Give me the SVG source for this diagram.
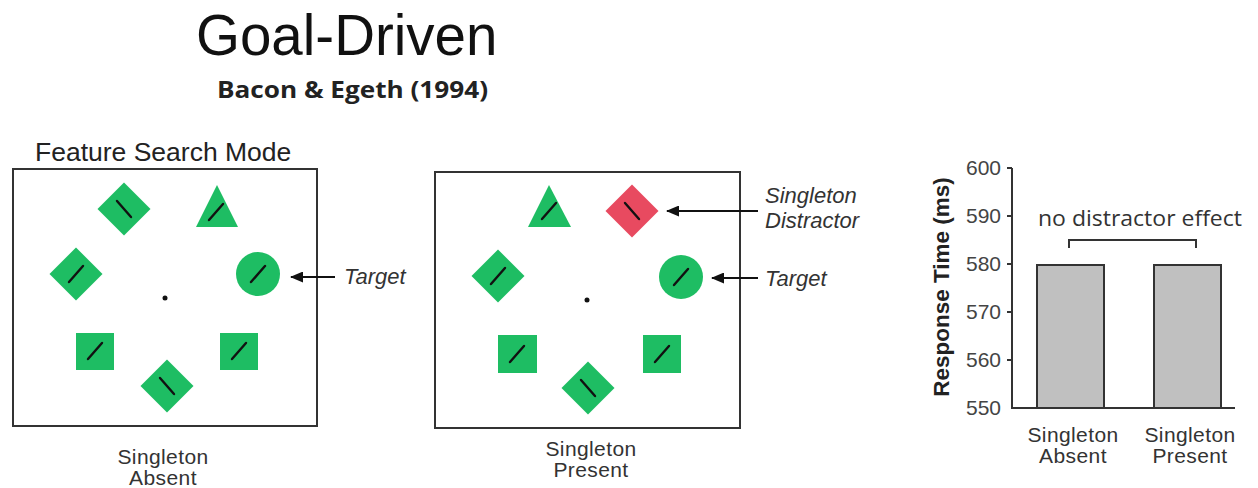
<svg xmlns="http://www.w3.org/2000/svg" width="1258" height="488" viewBox="0 0 1258 488">
  <style>
    .title { font-family: "Liberation Sans", Arial, sans-serif; font-size: 56.5px; fill: #111; }
    .sub { font-family: "Open Sans", "Liberation Sans", sans-serif; font-size: 23px; font-weight: bold; fill: #222; }
    .lbl { font-family: "Liberation Sans", Arial, sans-serif; font-size: 21px; letter-spacing: 0.4px; fill: #333; }
    .mode { font-family: "Liberation Sans", Arial, sans-serif; font-size: 26.5px; fill: #222; }
    .note { font-family: "Liberation Sans", Arial, sans-serif; font-size: 22px; font-style: italic; fill: #333; }
    .tick { font-family: "Liberation Sans", Arial, sans-serif; font-size: 21px; fill: #444; text-anchor: end; }
    .axis-title { font-family: "Liberation Sans", Arial, sans-serif; font-size: 22.5px; font-weight: bold; fill: #222; }
    .effect { font-family: "Open Sans", "Liberation Sans", sans-serif; font-size: 21px; fill: #333; }
    .frame { fill: #fff; stroke: #333; stroke-width: 2; }
    .g { fill: #1ebd63; }
    .r { fill: #e84a60; }
    .bar-line { stroke: #111; stroke-width: 2.4; stroke-linecap: round; }
    .conn { stroke: #111; stroke-width: 2; fill: none; }
    .bar { fill: #c0c0c0; stroke: #333; stroke-width: 2; }
    .ax { stroke: #333; stroke-width: 2; fill: none; }
  </style>
  <defs>
    <marker id="arrow" viewBox="0 0 13 11" refX="12" refY="5.5" markerWidth="13" markerHeight="11" markerUnits="userSpaceOnUse" orient="auto">
      <path d="M0,0 L13,5.5 L0,11 Z" fill="#111"/>
    </marker>
    <path id="diamond" d="M0,-26.5 L26.5,0 L0,26.5 L-26.5,0 Z"/>
    <line id="fw" x1="-7" y1="8" x2="7" y2="-8"/>
    <line id="bk" x1="-7" y1="-8" x2="7" y2="8"/>
  </defs>

  <!-- headings -->
  <g id="heading">
    <text class="title" x="196" y="55">Goal-Driven</text>
    <text class="sub" x="217" y="98" textLength="271" lengthAdjust="spacingAndGlyphs">Bacon &amp; Egeth (1994)</text>
  </g>

  <!-- display 1: singleton absent -->
  <g id="display-absent">
    <text class="mode" x="35" y="161">Feature Search Mode</text>
    <rect class="frame" x="13" y="169" width="304" height="257"/>
    <use href="#diamond" class="g" x="124" y="209"/>
    <use href="#bk" class="bar-line" x="124" y="209"/>
    <path class="g" d="M217,185 L238,227 L196,227 Z"/>
    <use href="#fw" class="bar-line" x="216" y="212"/>
    <use href="#diamond" class="g" x="76" y="274"/>
    <use href="#fw" class="bar-line" x="76" y="274"/>
    <circle class="g" cx="258" cy="274" r="22"/>
    <use href="#fw" class="bar-line" x="258" y="274"/>
    <circle cx="165" cy="298" r="2.5" fill="#111"/>
    <rect class="g" x="76" y="333" width="38" height="37"/>
    <use href="#fw" class="bar-line" x="95" y="351"/>
    <rect class="g" x="220" y="333" width="38" height="37"/>
    <use href="#fw" class="bar-line" x="239" y="351"/>
    <use href="#diamond" class="g" x="167" y="386"/>
    <use href="#bk" class="bar-line" x="167" y="386"/>
    <text class="lbl" x="163" y="464" text-anchor="middle">Singleton</text>
    <text class="lbl" x="163" y="485" text-anchor="middle">Absent</text>
  </g>

  <!-- display 2: singleton present -->
  <g id="display-present">
    <rect class="frame" x="435" y="172" width="305" height="256"/>
    <path class="g" d="M549,185 L571,227 L528,227 Z"/>
    <use href="#fw" class="bar-line" x="549" y="211"/>
    <use href="#diamond" class="r" x="632" y="211"/>
    <use href="#bk" class="bar-line" x="632" y="211"/>
    <use href="#diamond" class="g" x="498" y="276"/>
    <use href="#fw" class="bar-line" x="498" y="276"/>
    <circle class="g" cx="681" cy="277" r="22"/>
    <use href="#fw" class="bar-line" x="681" y="277"/>
    <circle cx="587" cy="300" r="2.5" fill="#111"/>
    <rect class="g" x="498" y="335" width="39" height="38"/>
    <use href="#fw" class="bar-line" x="517" y="354"/>
    <rect class="g" x="643" y="335" width="38" height="38"/>
    <use href="#fw" class="bar-line" x="662" y="354"/>
    <use href="#diamond" class="g" x="588" y="388"/>
    <use href="#bk" class="bar-line" x="588" y="388"/>
    <text class="lbl" x="591" y="456" text-anchor="middle">Singleton</text>
    <text class="lbl" x="591" y="477" text-anchor="middle">Present</text>
  </g>

  <!-- callouts -->
  <g id="callout-target-1">
    <text class="note" x="344" y="284">Target</text>
  </g>
  <g id="callout-distractor">
    <text class="note" x="765" y="203">Singleton</text>
    <text class="note" x="765" y="228">Distractor</text>
  </g>
  <g id="callout-target-2">
    <text class="note" x="765" y="286">Target</text>
  </g>

  <g id="connectors">
    <line class="conn" x1="335" y1="277" x2="291" y2="277" marker-end="url(#arrow)"/>
    <line class="conn" x1="758" y1="211" x2="667" y2="211" marker-end="url(#arrow)"/>
    <line class="conn" x1="758" y1="278" x2="712" y2="278" marker-end="url(#arrow)"/>
  </g>

  <!-- response time chart -->
  <g id="chart">
    <text class="axis-title" transform="translate(949,287) rotate(-90)" text-anchor="middle">Response Time (ms)</text>
    <path class="ax" d="M1012,168 V408 H1235"/>
    <path class="ax" d="M1007,168 H1012 M1007,216 H1012 M1007,264 H1012 M1007,312 H1012 M1007,360 H1012"/>
    <text class="tick" x="1001" y="175">600</text>
    <text class="tick" x="1001" y="223">590</text>
    <text class="tick" x="1001" y="271">580</text>
    <text class="tick" x="1001" y="319">570</text>
    <text class="tick" x="1001" y="367">560</text>
    <text class="tick" x="1001" y="415">550</text>
    <rect class="bar" x="1037" y="265" width="67" height="143"/>
    <rect class="bar" x="1154" y="265" width="67" height="143"/>
    <path class="ax" d="M1069,248 V240 H1196 V248" stroke-width="1.8"/>
    <text class="effect" x="1038" y="226" textLength="204" lengthAdjust="spacingAndGlyphs">no distractor effect</text>
    <text class="lbl" x="1073" y="442" text-anchor="middle">Singleton</text>
    <text class="lbl" x="1073" y="463" text-anchor="middle">Absent</text>
    <text class="lbl" x="1190" y="442" text-anchor="middle">Singleton</text>
    <text class="lbl" x="1190" y="463" text-anchor="middle">Present</text>
  </g>
</svg>
